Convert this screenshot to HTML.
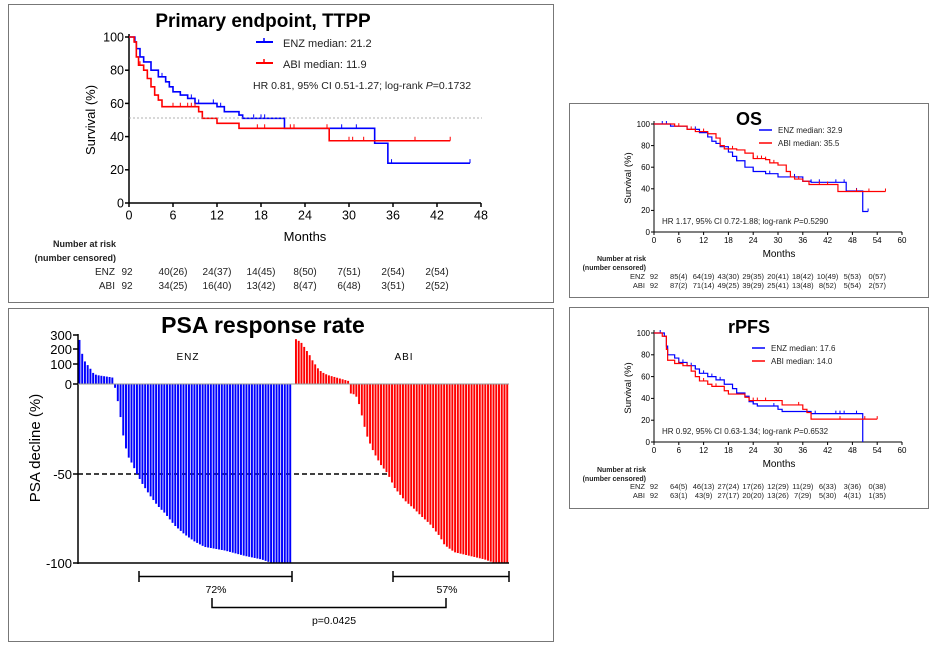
<!DOCTYPE html>
<html><head><meta charset="utf-8"><style>
html,body{margin:0;padding:0;background:#fff;}
svg{display:block;font-family:"Liberation Sans",Arial,sans-serif;}
</style></head><body>
<svg id="s" width="935" height="647" viewBox="0 0 935 647" xmlns="http://www.w3.org/2000/svg">
<rect x="0" y="0" width="935" height="647" fill="#fff"/>
<rect x="8.5" y="4.5" width="545" height="298" fill="none" stroke="#777" stroke-width="1"/>
<rect x="8.5" y="308.5" width="545" height="333" fill="none" stroke="#777" stroke-width="1"/>
<rect x="569.5" y="103.5" width="359" height="194" fill="none" stroke="#777" stroke-width="1"/>
<rect x="569.5" y="307.5" width="359" height="201" fill="none" stroke="#777" stroke-width="1"/>

<!-- TTPP -->
<text x="263" y="27" font-size="19" font-weight="bold" text-anchor="middle">Primary endpoint, TTPP</text>
<g id="ttpp"></g>
<line x1="129" y1="118" x2="482" y2="118" stroke="#999" stroke-width="0.8" stroke-dasharray="2,2"/>
<line x1="256" y1="42" x2="273" y2="42" stroke="#00f" stroke-width="2"/><line x1="264" y1="38" x2="264" y2="42" stroke="#00f" stroke-width="1.5"/>
<text x="283" y="47" font-size="11" fill="#222">ENZ median: 21.2</text>
<line x1="256" y1="63" x2="273" y2="63" stroke="#f00" stroke-width="2"/><line x1="264" y1="59" x2="264" y2="63" stroke="#f00" stroke-width="1.5"/>
<text x="283" y="68" font-size="11" fill="#222">ABI median: 11.9</text>
<text x="253" y="89" font-size="10.5" fill="#222">HR 0.81, 95% CI 0.51-1.27; log-rank <tspan font-style="italic">P</tspan>=0.1732</text>
<text x="305" y="241" font-size="13" text-anchor="middle">Months</text>
<text transform="translate(95,120) rotate(-90)" font-size="13" text-anchor="middle">Survival (%)</text>
<g font-size="9" font-weight="bold" text-anchor="end" fill="#222">
<text x="116" y="247">Number at risk</text><text x="116" y="261">(number censored)</text></g>
<g font-size="10" fill="#222" text-anchor="middle" id="ttppRisk"></g>

<!-- OS -->
<text x="749" y="125" font-size="18" font-weight="bold" text-anchor="middle">OS</text>
<g id="os"></g>
<line x1="759" y1="130" x2="772" y2="130" stroke="#00f" stroke-width="1.5"/>
<text x="778" y="133" font-size="8" fill="#222">ENZ median: 32.9</text>
<line x1="759" y1="143" x2="772" y2="143" stroke="#f00" stroke-width="1.5"/>
<text x="778" y="146" font-size="8" fill="#222">ABI median: 35.5</text>
<text x="662" y="224" font-size="8" fill="#222">HR 1.17, 95%  CI 0.72-1.88; log-rank <tspan font-style="italic">P</tspan>=0.5290</text>
<text x="779" y="257" font-size="10" text-anchor="middle">Months</text>
<text transform="translate(631,178) rotate(-90)" font-size="9.5" text-anchor="middle">Survival (%)</text>
<g font-size="7" font-weight="bold" text-anchor="end" fill="#222">
<text x="646" y="261">Number at risk</text><text x="646" y="270">(number censored)</text></g>
<g font-size="7.5" fill="#222" text-anchor="middle" id="osRisk"></g>

<!-- rPFS -->
<text x="749" y="333" font-size="18" font-weight="bold" text-anchor="middle">rPFS</text>
<g id="pfs"></g>
<line x1="752" y1="348" x2="765" y2="348" stroke="#00f" stroke-width="1.5"/>
<text x="771" y="351" font-size="8" fill="#222">ENZ median: 17.6</text>
<line x1="752" y1="361" x2="765" y2="361" stroke="#f00" stroke-width="1.5"/>
<text x="771" y="364" font-size="8" fill="#222">ABI median: 14.0</text>
<text x="662" y="434" font-size="8" fill="#222">HR 0.92, 95%  CI 0.63-1.34; log-rank <tspan font-style="italic">P</tspan>=0.6532</text>
<text x="779" y="467" font-size="10" text-anchor="middle">Months</text>
<text transform="translate(631,388) rotate(-90)" font-size="9.5" text-anchor="middle">Survival (%)</text>
<g font-size="7" font-weight="bold" text-anchor="end" fill="#222">
<text x="646" y="472">Number at risk</text><text x="646" y="481">(number censored)</text></g>
<g font-size="7.5" fill="#222" text-anchor="middle" id="pfsRisk"></g>

<!-- PSA -->
<text x="263" y="333" font-size="23" font-weight="bold" text-anchor="middle">PSA response rate</text>
<line x1="78" y1="474" x2="390" y2="474" stroke="#000" stroke-width="1.5" stroke-dasharray="5,3"/>
<g id="bars"></g>
<line x1="78" y1="334" x2="78" y2="564" stroke="#000" stroke-width="1.5"/>
<line x1="78" y1="563" x2="509" y2="563" stroke="#000" stroke-width="1.5"/>
<line x1="78" y1="384" x2="509" y2="384" stroke="#999" stroke-width="1"/>
<g stroke="#000" stroke-width="1.5">
<line x1="73" y1="335" x2="78" y2="335"/><line x1="73" y1="349" x2="78" y2="349"/><line x1="73" y1="364" x2="78" y2="364"/><line x1="73" y1="384" x2="78" y2="384"/><line x1="73" y1="474" x2="78" y2="474"/><line x1="73" y1="563" x2="78" y2="563"/>
</g>
<g font-size="13" text-anchor="end">
<text x="72" y="340">300</text><text x="72" y="354">200</text><text x="72" y="369">100</text><text x="72" y="389">0</text><text x="72" y="479">-50</text><text x="72" y="568">-100</text></g>
<text transform="translate(40,448) rotate(-90)" font-size="15" text-anchor="middle">PSA decline (%)</text>
<text x="188" y="360" font-size="10" text-anchor="middle" letter-spacing="1">ENZ</text>
<text x="404" y="360" font-size="10" text-anchor="middle" letter-spacing="1">ABI</text>
<g stroke="#000" stroke-width="1.5" fill="none">
<path d="M139,571 V582 M139,576.5 H292 M292,571 V582"/>
<path d="M393,571 V582 M393,576.5 H509 M509,571 V582"/>
<path d="M212,598 V607.5 H446 V598"/>
</g>
<text x="216" y="593" font-size="10.5" text-anchor="middle">72%</text>
<text x="447" y="593" font-size="10.5" text-anchor="middle">57%</text>
<text x="334" y="624" font-size="10.5" text-anchor="middle">p=0.0425</text>
</svg>
<script>
var NS="http://www.w3.org/2000/svg";
function el(p,t,a,txt){var e=document.createElementNS(NS,t);for(var k in a)e.setAttribute(k,a[k]);if(txt!==undefined)e.textContent=txt;p.appendChild(e);return e;}
function km(gid,o){
 var g=document.getElementById(gid);
 var X=function(v){return o.x0+v*(o.x1-o.x0)/o.xmax;}, Y=function(v){return o.y0-v*(o.y0-o.y1)/100;};
 el(g,"line",{x1:o.x0,y1:o.y1-3,x2:o.x0,y2:o.y0,stroke:"#000","stroke-width":o.aw});
 el(g,"line",{x1:o.x0,y1:o.y0,x2:o.x1,y2:o.y0,stroke:"#000","stroke-width":o.aw});
 for(var v=0;v<=100;v+=20){el(g,"line",{x1:o.x0-o.tl,y1:Y(v),x2:o.x0,y2:Y(v),stroke:"#000","stroke-width":o.aw});
  el(g,"text",{x:o.x0-o.tl-1,y:Y(v)+o.fs*0.35,"font-size":o.fs,"text-anchor":"end"},v);}
 for(var m=0;m<=o.xmax;m+=6){el(g,"line",{x1:X(m),y1:o.y0,x2:X(m),y2:o.y0+o.tl,stroke:"#000","stroke-width":o.aw});
  el(g,"text",{x:X(m),y:o.y0+o.tl+o.fs,"font-size":o.fs,"text-anchor":"middle"},m);}
 o.series.forEach(function(s){
  var d="M"+X(s.p[0][0])+","+Y(s.p[0][1]);
  for(var i=1;i<s.p.length;i++){d+=" H"+X(s.p[i][0])+" V"+Y(s.p[i][1]);}
  el(g,"path",{d:d,fill:"none",stroke:s.c,"stroke-width":o.lw});
  s.cs.forEach(function(c){var yy=null;for(var i=0;i<s.p.length;i++){if(s.p[i][0]<=c)yy=s.p[i][1];}
   el(g,"line",{x1:X(c),y1:Y(yy),x2:X(c),y2:Y(yy)-o.tl,stroke:s.c,"stroke-width":1});});
 });
 var r=document.getElementById(o.rid);
 o.rows.forEach(function(row,ri){var yy=o.ry[ri];
  el(r,"text",{x:o.lx,y:yy,"text-anchor":"end"},row[0]);
  el(r,"text",{x:o.nx,y:yy},"92");
  for(var i=1;i<row.length;i++)el(r,"text",{x:X(6*i),y:yy},row[i]);});
}
km("ttpp",{x0:129,x1:481,xmax:48,y0:203,y1:37,aw:1.5,tl:4,fs:12.5,lw:1.6,rid:"ttppRisk",lx:115,nx:127,ry:[275,289],
 rows:[["ENZ","40(26)","24(37)","14(45)","8(50)","7(51)","2(54)","2(54)"],["ABI","34(25)","16(40)","13(42)","8(47)","6(48)","3(51)","2(52)"]],
 series:[{c:"#00f",p:[[0,100],[0.6,100],[0.8,97],[1,93],[1.5,88],[2,85],[3,80],[4,76],[5,73],[5.5,70],[6,67],[7,65],[8,63],[9,60],[12,58],[13,55],[15,53],[15.5,51],[21.2,51],[21.2,45],[33.5,45],[33.5,36],[35.3,36],[35.3,24],[46.5,24]],
  cs:[4.5,5,7,8.5,9.5,11.5,12.5,15,17,18,18.5,29,31,35.8,46.5]},
  {c:"#f00",p:[[0,100],[0.7,97],[1,88],[1.3,83],[2,80],[2.5,75],[3,70],[3.5,65],[4,62],[4.5,58],[9,58],[9.5,55],[10,51],[12,51],[12,48],[15,48],[15,45],[27.3,45],[27.3,37.5],[43.8,37.5]],
  cs:[1.5,2.5,6,7,8,8.5,9,17.5,18.5,22,22.5,27,30,30.5,32,39,43.8]}]});
km("os",{x0:654,x1:902,xmax:60,y0:232,y1:124,aw:1,tl:3,fs:8,lw:1.2,rid:"osRisk",lx:645,nx:654,ry:[279,288],
 rows:[["ENZ","85(4)","64(19)","43(30)","29(35)","20(41)","18(42)","10(49)","5(53)","0(57)"],["ABI","87(2)","71(14)","49(25)","39(29)","25(41)","13(48)","8(52)","5(54)","2(57)"]],
 series:[{c:"#00f",p:[[0,100],[4,98],[8,95],[11,92],[13,88],[14,84],[15,82],[16,79],[18,74],[19,70],[20,66],[22,60],[24,56],[27,54],[30,51],[34,51],[36,47],[38,46],[46.5,46],[46.5,38],[50,38],[50.5,19],[51.8,19]],
  cs:[2,3,10,20,24,28,34,38,40,44,46,49,51.8]},
  {c:"#f00",p:[[0,100],[5,98],[8,95],[10,93],[13,91],[15,87],[16,80],[17,77],[20,76],[22,73],[24,68],[27,67],[28,64],[30,62],[32,56],[33,51],[34,49],[36,47],[37.5,44],[44.5,44],[44.5,37.5],[56,37.5]],
  cs:[6,9,12,19,24,25,26,27,29,35,40,42,49,52,56]}]});
km("pfs",{x0:654,x1:902,xmax:60,y0:442,y1:333,aw:1,tl:3,fs:8,lw:1.2,rid:"pfsRisk",lx:645,nx:654,ry:[489,498],
 rows:[["ENZ","64(5)","46(13)","27(24)","17(26)","12(29)","11(29)","6(33)","3(36)","0(38)"],["ABI","63(1)","43(9)","27(17)","20(20)","13(26)","7(29)","5(30)","4(31)","1(35)"]],
 series:[{c:"#00f",p:[[0,100],[1.5,100],[2.5,97],[3,88],[3.3,80],[5,77],[6,73],[8,70],[10,67],[11,63],[13,60],[15,57],[17,53],[19,49],[20,45],[22,42],[23,37],[24,35],[25,33],[30,30],[31,28],[36,28],[38,26],[50,26],[50.5,0]],
  cs:[1.5,7,9,10,12,14,16,24,29,39,44,45,46,49]},
  {c:"#f00",p:[[0,100],[2,97],[3,85],[3.3,75],[5,72],[7,70],[9,65],[10,60],[11,56],[13,53],[14,51],[17,47],[18,44],[21,44],[22,41],[23,38],[30,38],[31,34],[36,30],[37,27],[38,21],[54,21]],
  cs:[6,8,12,15,24,25,27,35,45,51,54]}]});

(function(){
 var g=document.getElementById("bars");
 function py(v){if(v>=0){var h=v<=100?v*0.2:(20+(v-100)*0.15);return 384-h;}return 384-v*1.79;}
 function interp(pts,x){for(var i=1;i<pts.length;i++){if(x<=pts[i][0]){var a=pts[i-1],b=pts[i];return a[1]+(b[1]-a[1])*(x-a[0])/(b[0]-a[0]);}}return pts[pts.length-1][1];}
 function group(x0,x1,pos,neg,col){
  var pitch=2.75,n=Math.round((x1-x0)/pitch);pitch=(x1-x0)/n;
  for(var i=0;i<n;i++){var x=x0+i*pitch,xc=x+pitch/2,v;
   if(xc<pos.split){v=interp(pos.pts,xc);}else{v=interp(neg,xc);}
   var y=py(v),top=Math.min(y,384),h=Math.abs(y-384);
   if(h<1)h=1;
   el(g,"rect",{x:x.toFixed(2),y:top.toFixed(2),width:(pitch-0.8).toFixed(2),height:h.toFixed(2),fill:col});}
 }
 group(78.5,292,{split:115,pts:[[78,265],[80,260],[82,180],[85,120],[88,95],[91,75],[94,52],[97,45],[103,40],[110,35],[115,30]]},
  [[115,-1],[117,-6],[120,-15],[124,-30],[128,-40],[133,-45],[137,-50],[143,-56],[150,-62],[158,-68],[165,-72],[175,-79],[185,-84],[195,-88],[205,-91],[225,-93],[245,-96],[262,-98],[272,-100],[292,-100]],"#0000ff");
 group(295,509,{split:349,pts:[[295,270],[298,260],[302,240],[306,200],[310,160],[314,110],[318,80],[322,60],[328,45],[335,35],[342,25],[349,15]]},
  [[349,-5],[356,-6],[360,-12],[364,-22],[368,-30],[374,-38],[381,-45],[388,-50],[395,-58],[405,-65],[415,-70],[422,-74],[430,-78],[440,-85],[445,-90],[455,-94],[470,-96],[485,-98],[495,-100],[509,-100]],"#ff0000");
})();
</script>
</body></html>
